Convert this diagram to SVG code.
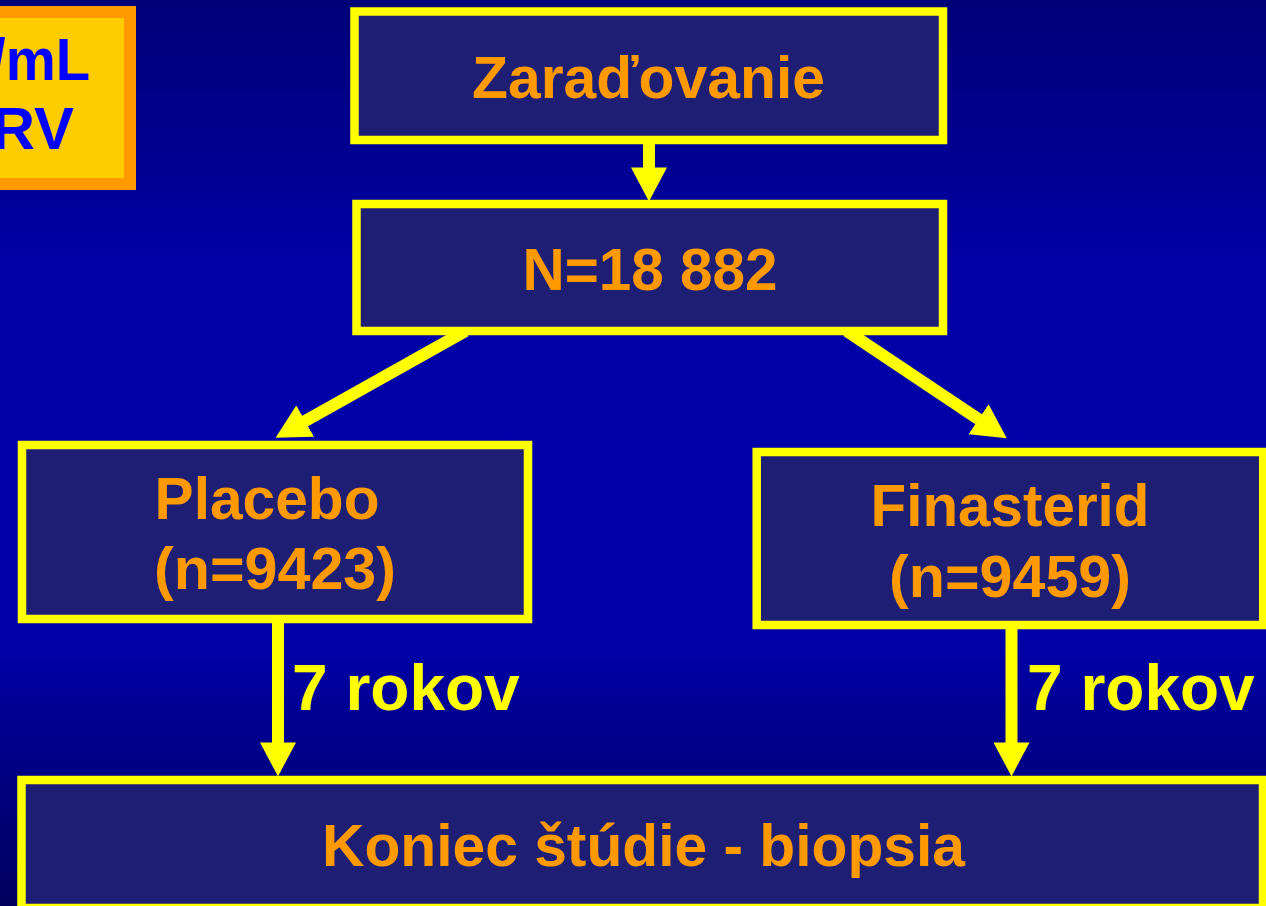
<svg xmlns="http://www.w3.org/2000/svg" width="1266" height="906" viewBox="0 0 1266 906">
  <defs>
    <linearGradient id="bg" x1="0" y1="0" x2="0" y2="1">
      <stop offset="0" stop-color="#000078"/>
      <stop offset="0.3" stop-color="#0000a6"/>
      <stop offset="0.7" stop-color="#0000aa"/>
      <stop offset="1" stop-color="#00005e"/>
    </linearGradient>
    <marker id="head" markerUnits="userSpaceOnUse" markerWidth="34" markerHeight="36" viewBox="0 0 33 35" refX="0.5" refY="17.5" orient="auto">
      <path d="M0,0 L33,17.5 L0,35 Z" fill="#ffff00"/>
    </marker>
    <style>
      .box { fill: #1f1e75; stroke: #ffff00; stroke-width: 8.5; }
      .lbl { font-family: "Liberation Sans", Arial, sans-serif; font-weight: bold; font-size: 60px; fill: #ff9900; text-anchor: middle; }
      .yl { font-family: "Liberation Sans", Arial, sans-serif; font-weight: bold; font-size: 64px; fill: #ffff00; }
      .conn { stroke: #ffff00; stroke-width: 12; fill: none; marker-end: url(#head); }
      .note { font-family: "Liberation Sans", Arial, sans-serif; font-weight: bold; font-size: 60px; fill: #0000ff; text-anchor: end; }
    </style>
  </defs>
  <rect x="0" y="0" width="1266" height="906" fill="url(#bg)"/>

  <g id="note">
    <rect x="-10" y="12" width="140" height="172" fill="#ffcc00" stroke="#ff9900" stroke-width="12"/>
    <text class="note" x="90" y="80" textLength="100" lengthAdjust="spacingAndGlyphs">/mL</text>
    <text class="note" x="74" y="149">RV</text>
  </g>

  <g id="connectors">
    <line class="conn" x1="649" y1="140" x2="649" y2="168"/>
    <line class="conn" x1="465.6" y1="331" x2="304.7" y2="421.3"/>
    <line class="conn" x1="846.7" y1="331" x2="979" y2="419.6"/>
    <line class="conn" x1="278" y1="619" x2="278" y2="743"/>
    <line class="conn" x1="1011.5" y1="625" x2="1011.5" y2="743"/>
    <text class="yl" x="292" y="710">7 rokov</text>
    <text class="yl" x="1027" y="710">7 rokov</text>
  </g>

  <g id="zaradovanie">
    <rect class="box" x="354.5" y="11.5" width="588.5" height="128.5"/>
    <text class="lbl" x="648.5" y="98" textLength="353" lengthAdjust="spacingAndGlyphs">Zaraďovanie</text>
  </g>

  <g id="total">
    <rect class="box" x="356.5" y="204" width="586.5" height="127"/>
    <text class="lbl" x="650" y="290" textLength="255" lengthAdjust="spacingAndGlyphs">N=18 882</text>
  </g>

  <g id="placebo">
    <rect class="box" x="22" y="445" width="506" height="174"/>
    <text class="lbl" x="267" y="519" textLength="225" lengthAdjust="spacingAndGlyphs">Placebo</text>
    <text class="lbl" x="275" y="589" textLength="242" lengthAdjust="spacingAndGlyphs">(n=9423)</text>
  </g>

  <g id="finasterid">
    <rect class="box" x="756.7" y="452" width="506.5" height="173"/>
    <text class="lbl" x="1010" y="526" textLength="279" lengthAdjust="spacingAndGlyphs">Finasterid</text>
    <text class="lbl" x="1010" y="597" textLength="242" lengthAdjust="spacingAndGlyphs">(n=9459)</text>
  </g>

  <g id="koniec">
    <rect class="box" x="21.5" y="780" width="1241.5" height="128"/>
    <text class="lbl" x="643.5" y="866" textLength="643" lengthAdjust="spacingAndGlyphs">Koniec štúdie - biopsia</text>
  </g>
</svg>
